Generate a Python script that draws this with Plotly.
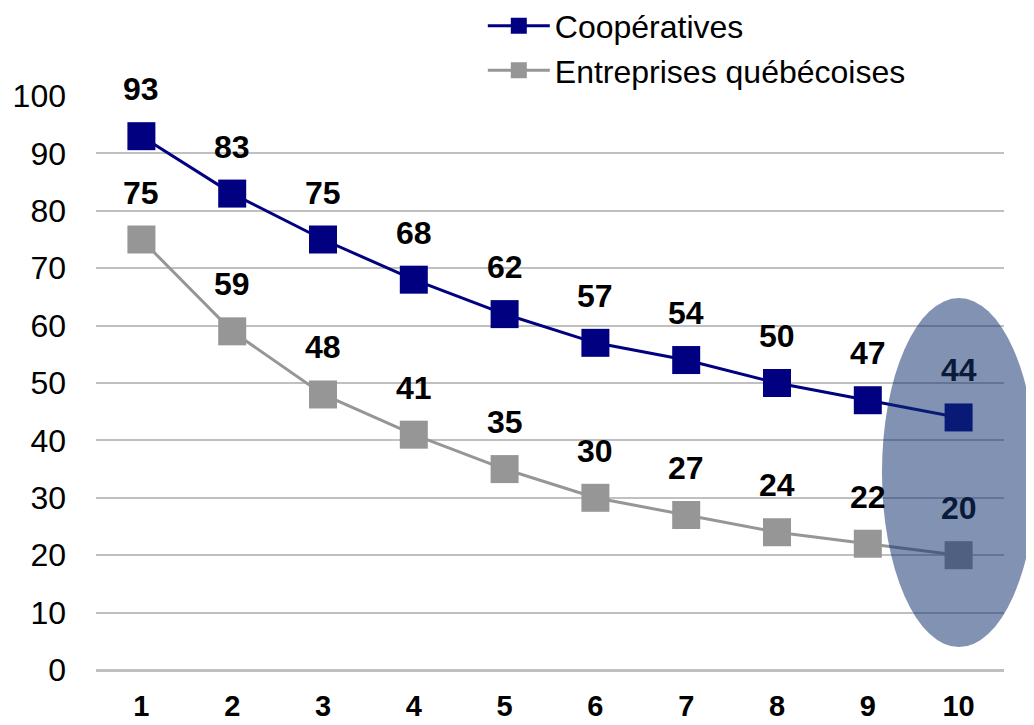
import plotly.graph_objects as go

categories = ["1", "2", "3", "4", "5", "6", "7", "8", "9", "10"]
coop = [93, 83, 75, 68, 62, 57, 54, 50, 47, 44]
entreprises = [75, 59, 48, 41, 35, 30, 27, 24, 22, 20]
series_names = ["Coopératives", "Entreprises québécoises"]
y_ticks = [0, 10, 20, 30, 40, 50, 60, 70, 80, 90, 100]

NAVY = "#000080"
GRAY = "#969696"
FONT = "Liberation Sans, Arial, sans-serif"

fig = go.Figure()
fig.add_trace(go.Scatter(
    x=categories, y=coop, name=series_names[0], mode="lines+markers",
    line=dict(color=NAVY, width=3),
    marker=dict(symbol="square", size=28, color=NAVY),
    cliponaxis=False, legendgroup="a",
))
fig.add_trace(go.Scatter(
    x=categories, y=entreprises, name=series_names[1], mode="lines+markers",
    line=dict(color=GRAY, width=3),
    marker=dict(symbol="square", size=28, color=GRAY),
    cliponaxis=False, legendgroup="b",
))

# data labels (x given as category index)
highlight_color = "rgb(9,26,58)"
for series in (coop, entreprises):
    for i, v in enumerate(series):
        col = highlight_color if i == len(categories) - 1 else "black"
        fig.add_annotation(
            x=i, y=v, text=str(v), showarrow=False, yshift=47,
            xanchor="center", yanchor="middle",
            font=dict(family=FONT, size=32, color=col, weight="bold"),
        )

# highlight ellipse around last category
fig.add_shape(
    type="circle", xref="paper", yref="y",
    x0=0.8656, x1=1.0352, y0=4.0, y1=64.8,
    fillcolor="rgb(17,49,110)", opacity=0.53,
    line=dict(width=0), layer="above",
)

fig.update_layout(
    width=1026, height=717,
    margin=dict(l=88, r=30, t=88, b=55, autoexpand=False),
    plot_bgcolor="white", paper_bgcolor="white",
    font=dict(family=FONT, color="black", size=30),
    showlegend=True,
    legend=dict(
        x=0.426, y=1.17, xanchor="left", yanchor="top",
        font=dict(family=FONT, size=32, color="black"),
        bgcolor="rgba(0,0,0,0)", tracegroupgap=0,
        itemwidth=62,
    ),
    xaxis=dict(
        type="category", range=[-0.5, 9.5], autorange=False,
        showgrid=False, showline=False, zeroline=False,
        tickfont=dict(family=FONT, size=29, color="black", weight="bold"),
        ticks="", ticklabelstandoff=16, automargin=False,
    ),
    yaxis=dict(
        range=[0, 100], tickvals=y_ticks, showgrid=True,
        gridcolor="#c0c0c0", gridwidth=1.5,
        zeroline=True, zerolinecolor="#c0c0c0", zerolinewidth=2.5,
        showline=False, ticks="",
        tickfont=dict(family=FONT, size=32, color="black"),
        ticklabelstandoff=29, automargin=False,
    ),
)

fig.write_html("out.html")
